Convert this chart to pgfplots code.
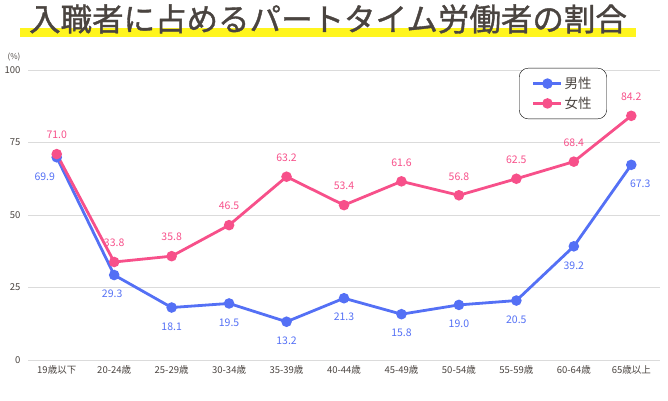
\documentclass[border=0pt]{standalone}
\usepackage{fontspec}
\setmainfont{Noto Sans CJK JP}
\newfontfamily\titlefont[FakeBold=1.2]{Noto Sans CJK JP}
\usepackage{pgfplots}
\usepackage{pgfplotstable}
\pgfplotsset{compat=1.18}
\definecolor{blueL}{HTML}{5470F5}
\definecolor{pinkL}{HTML}{F7508A}
\definecolor{txt}{HTML}{4A4440}
\definecolor{hl}{HTML}{FFF51E}
\pgfplotstableread{
x y dx
0 69.9 -12
1 29.3 -2
2 18.1 0
3 19.5 0
4 13.2 0
5 21.3 0
6 15.8 0
7 19.0 0
8 20.5 0
9 39.2 0
10 67.3 9
}\male
\pgfplotstableread{
x y dx
0 71.0 0
1 33.8 0
2 35.8 0
3 46.5 0
4 63.2 0
5 53.4 0
6 61.6 0
7 56.8 0
8 62.5 0
9 68.4 0
10 84.2 0
}\female
\begin{document}
\begin{tikzpicture}
\useasboundingbox (0pt,0pt) rectangle (668pt,400pt);
\fill[hl] (20pt,363pt) rectangle (636pt,372pt);
\node[txt, font=\titlefont\fontsize{31.5}{33}\selectfont] at (328pt,381pt) {入職者に占めるパートタイム労働者の割合};
\node[txt, font=\fontsize{8}{9}\selectfont] at (14pt,343pt) {(\%)};
\begin{axis}[at={(28pt,40pt)}, anchor=south west, scale only axis,
  width=632pt, height=290pt,
  xmin=-0.5, xmax=10.5, ymin=0, ymax=100,
  ytick={0,25,50,75,100},
  xtick={0,...,10},
  xticklabels={19歳以下,20-24歳,25-29歳,30-34歳,35-39歳,40-44歳,45-49歳,50-54歳,55-59歳,60-64歳,65歳以上},
  ymajorgrids, grid style={draw=black!14, line width=0.8pt},
  axis line style={draw=none},
  major tick length=0pt,
  /pgf/number format/assume math mode=true,
  tick label style={txt, font=\fontsize{9.5}{10}\selectfont},
  yticklabel style={xshift=-4pt},
  xticklabel style={yshift=-2pt},
  clip=false,
  legend style={at={(0.916,1.007)}, anchor=north east, draw=black, rounded corners=9pt,
    font=\fontsize{13.5}{14}\selectfont, text=txt, inner xsep=13pt, inner ysep=7pt, row sep=3pt,
    legend cell align=left},
  legend image code/.code={\draw[#1, line width=2.5pt] (0pt,0pt) -- (28pt,0pt); \fill[#1] (14pt,0pt) circle (3.8pt);},
  point meta=y,
  nodes near coords={\pgfmathprintnumber[fixed,fixed zerofill,precision=1]{\pgfplotspointmeta}},
]
\addplot[blueL, line width=2.8pt, mark=*, mark size=3.8pt,
  visualization depends on={\thisrow{dx} \as \dx},
  every node near coord/.append style={anchor=center, yshift=-19pt, xshift=\dx pt, text=blueL, font=\fontsize{10.5}{11}\selectfont}]
  table[x=x,y=y] {\male};
\addlegendentry{男性}
\addplot[pinkL, line width=2.8pt, mark=*, mark size=3.8pt,
  visualization depends on={\thisrow{dx} \as \dx},
  every node near coord/.append style={anchor=center, yshift=19pt, xshift=\dx pt, text=pinkL, font=\fontsize{10.5}{11}\selectfont}]
  table[x=x,y=y] {\female};
\addlegendentry{女性}
\end{axis}
\end{tikzpicture}
\end{document}
